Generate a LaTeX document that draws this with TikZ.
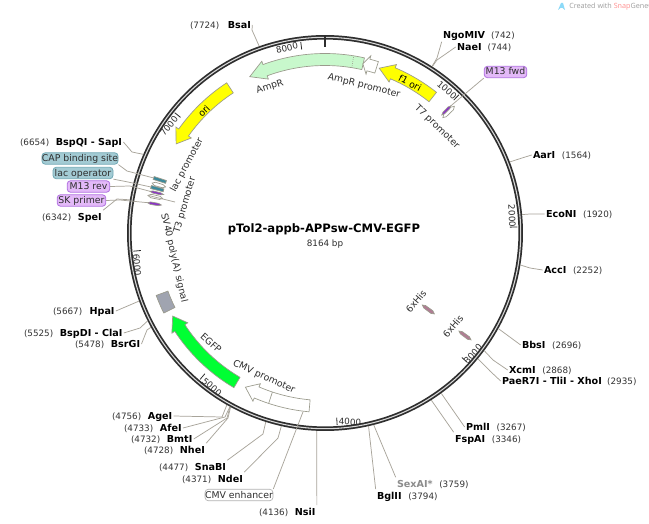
\documentclass[tikz,border=0pt]{standalone}
\usepackage{fontspec}
\setmainfont{DejaVu Sans}
\newfontfamily\wmfont{Open Sans}
\definecolor{ringc}{HTML}{2E2E2E}
\definecolor{linec}{HTML}{A8A49A}
\definecolor{featline}{HTML}{9A9A8C}
\definecolor{numc}{HTML}{333333}
\definecolor{ampg}{HTML}{C8F8CC}
\definecolor{yel}{HTML}{FFFF00}
\definecolor{egfpg}{HTML}{00FF33}
\definecolor{svg}{HTML}{A0A4B0}
\definecolor{tealf}{HTML}{3A8A9C}
\definecolor{purpf}{HTML}{8A30C8}
\definecolor{hisf}{HTML}{B07C94}
\definecolor{tlfill}{HTML}{A3CBD4}
\definecolor{tlline}{HTML}{70A8B4}
\definecolor{plfill}{HTML}{E3B9F8}
\definecolor{plline}{HTML}{B070E0}
\tikzset{
  px/.style={font=\fontsize{6.6pt}{8pt}\selectfont},
  pxb/.style={font=\fontsize{7pt}{8pt}\selectfont},
  site/.style={px,inner sep=0pt,outer sep=1pt,xshift=-1pt,text height=6.5pt,text depth=1.7pt,anchor=west,text=numc},
  conn/.style={draw=linec,line width=0.55pt},
  feat/.style={draw=featline,line width=0.5pt,line join=miter},
  featlabel/.style={pxb,text=ringc,inner sep=0pt},
  ticklabel/.style={px,text=ringc,inner sep=0pt},
  ticklinestyle/.style={draw=ringc,line width=0.6pt},
  tealtag/.style={pxb,rounded corners=2.5pt,fill=tlfill,draw=tlline,line width=0.6pt,inner sep=0pt,text=ringc,minimum height=8.6pt,text height=6pt,text depth=1.5pt},
  purptag/.style={pxb,rounded corners=2.5pt,fill=plfill,draw=plline,line width=0.6pt,inner sep=0pt,text=ringc,minimum height=8.6pt,text height=6pt,text depth=1.5pt},
  greytag/.style={pxb,rounded corners=2.5pt,fill=white,draw=black!30,line width=0.5pt,inner sep=0pt,text=ringc,minimum height=8.6pt,text height=6pt,text depth=1.5pt},
}
\newcommand\nm[1]{{\fontsize{7.2pt}{8pt}\selectfont\textbf{\textcolor{black}{#1}}}}
\newcommand\arrowfeat[4]{%
  \draw[feat,#4] (#1:179.5) arc[start angle=#1,end angle=#2,radius=179.5] -- (#2:183) -- (#3:173.5) -- (#2:164) -- (#2:167.5) arc[start angle=#2,end angle=#1,radius=167.5] -- cycle;}
\newcommand\radbar[5]{%
  \draw[feat,#5] ({#1-#2}:#3) -- ({#1-#2}:#4) -- ({#1+#2}:#4) -- ({#1+#2}:#3) -- cycle;}
\newcommand\radlens[5]{%
  \draw[feat,#5] (#1:#3) -- ({#1+#2}:{#3+3}) -- ({#1+#2}:{#4-3}) -- (#1:#4) -- ({#1-#2}:{#4-3}) -- ({#1-#2}:{#3+3}) -- cycle;}
\begin{document}
\begin{tikzpicture}[x=0.75pt,y=-0.75pt]
\useasboundingbox[fill=white] (0,0) rectangle (649,524);
\begin{scope}[shift={(325,233)},y=0.75pt]
  % ring
  \draw[ringc,line width=3.4pt] (0,0) circle[radius=195.7];
  \draw[white!85!black,line width=0.8pt] (0,0) circle[radius=195.7];
  \draw[ringc,line width=1.5pt] (90:186) -- (90:197);
  % ticks
  \foreach \b in {1000,2000,3000,4000,5000,6000,7000,8000}
    \draw[ticklinestyle] ({90-\b/8164*360}:185) -- ({90-\b/8164*360}:192.5);
  % sites on the ring
  \foreach \n/\b in {bsa/7724,ngo/742,nae/744,aar/1564,eco/1920,acc/2252,bbs/2696,xcm/2868,pae/2935,pml/3267,fsp/3346,sex/3759,bgl/3794,nsi/4136,nde/4371,sna/4477,nhe/4728,bmt/4732,afe/4733,age/4756,bsr/5478,cla/5525,hpa/5667,spe/6342,bsp/6654}
    \coordinate (s\n) at ({90-\b/8164*360}:198);
  % large features
  \arrowfeat{77.3}{110.2}{115.7}{fill=ampg}
  \draw[featline,line width=0.5pt,densely dotted] (80.8:167.5) -- (80.8:179.5);
  \arrowfeat{72.7}{75.5}{77.4}{fill=white}
  \arrowfeat{51.6}{67}{71.8}{fill=yel}
  \arrowfeat{123.2}{144.6}{149.1}{fill=yel}
  \arrowfeat{239.5}{213.2}{208.6}{fill=egfpg}
  \arrowfeat{264.9}{246.8}{242.7}{fill=white}
  \draw[featline,line width=0.5pt] (251.7:167.5) -- (251.7:179.5);
  \draw[feat,fill=svg] (200.3:167.5) arc[start angle=200.3,end angle=206.4,radius=167.5] -- (206.4:180) arc[start angle=206.4,end angle=200.3,radius=180] -- cycle;
  % small features
  \radbar{162.2}{0.5}{167}{180}{fill=tealf}
  \radlens{163.9}{0.55}{166}{180}{fill=white}
  \radbar{165.2}{0.5}{167}{180}{fill=tealf}
  \radlens{166.6}{0.35}{166}{180}{fill=purpf}
  \radlens{168.0}{0.55}{166}{181}{fill=white}
  \radlens{170.3}{0.4}{166}{180}{fill=purpf}
  \radlens{44.4}{0.6}{165}{181}{fill=white}
  \radlens{45.3}{0.4}{166}{179}{fill=purpf}
  \radlens{-36.5}{0.7}{121}{136}{fill=hisf}
  \radlens{-36.2}{0.5}{166}{181}{fill=hisf}
  % free ends of feature connectors
  \coordinate (fcap) at (162.2:180);
  \coordinate (flaco) at (165.2:180);
  \coordinate (fm13r) at (166.6:180);
  \coordinate (fsk) at (170.3:180);
  \coordinate (ft3a) at (168:181);
  \coordinate (fm13f) at (45.3:179);
  \coordinate (fenh) at (263:180);
\end{scope}

% title
\node[font=\bfseries\fontsize{8.7pt}{10pt}\selectfont,inner sep=0pt] (title) at (324,229) {pTol2-appb-APPsw-CMV-EGFP};
\node[px,inner sep=0pt,text=ringc] (size) at (325,244) {8164 bp};

% watermark
\fill[cyan!45] (558,10) -- (561,3) -- (563,3) -- (565,10) -- (562.5,8) -- (560.5,8) -- cycle;
\node[font=\wmfont\fontsize{5.4pt}{6pt}\selectfont,inner sep=0pt,text=black!38,anchor=west] (wm) at (569,7) {Created with \textcolor{red!45}{Snap}Gene®};

% site labels, clockwise
\node[site] (bsa) at (190,25) {(7724)\hspace{6.5pt}\nm{BsaI}};
\node[site] (ngo) at (443,35) {\nm{NgoMIV}\hspace{4.5pt}(742)};
\node[site] (nae) at (457,47) {\nm{NaeI}\hspace{4.5pt}(744)};
\node[site] (aar) at (533,155) {\nm{AarI}\hspace{5pt}(1564)};
\node[site] (eco) at (546,214) {\nm{EcoNI}\hspace{5pt}(1920)};
\node[site] (acc) at (544,270) {\nm{AccI}\hspace{5pt}(2252)};
\node[site] (bbs) at (522,345) {\nm{BbsI}\hspace{5pt}(2696)};
\node[site] (xcm) at (509,370) {\nm{XcmI}\hspace{5pt}(2868)};
\node[site] (pae) at (502,381) {\nm{PaeR7I - TliI - XhoI}\hspace{4pt}(2935)};
\node[site] (pml) at (466,427) {\nm{PmlI}\hspace{5pt}(3267)};
\node[site] (fsp) at (455,439) {\nm{FspAI}\hspace{5pt}(3346)};
\node[site] (sex) at (397,484) {\textbf{\fontsize{7.2pt}{8pt}\selectfont\textcolor{black!45}{SexAI*}}\hspace{5pt}(3759)};
\node[site] (bgl) at (377,496) {\nm{BglII}\hspace{5pt}(3794)};
\node[site] (nsi) at (259,512) {(4136)\hspace{5pt}\nm{NsiI}};
\node[site] (nde) at (182,479) {(4371)\hspace{5pt}\nm{NdeI}};
\node[site] (sna) at (159,467) {(4477)\hspace{5pt}\nm{SnaBI}};
\node[site] (nhe) at (144,450) {(4728)\hspace{5pt}\nm{NheI}};
\node[site] (bmt) at (131,439) {(4732)\hspace{5pt}\nm{BmtI}};
\node[site] (afe) at (124,428) {(4733)\hspace{5pt}\nm{AfeI}};
\node[site] (age) at (112,416) {(4756)\hspace{5pt}\nm{AgeI}};
\node[site] (bsr) at (75,344) {(5478)\hspace{5pt}\nm{BsrGI}};
\node[site] (cla) at (24,333) {(5525)\hspace{5pt}\nm{BspDI - ClaI}};
\node[site] (hpa) at (53,311) {(5667)\hspace{5.5pt}\nm{HpaI}};
\node[site] (spe) at (42,217) {(6342)\hspace{5pt}\nm{SpeI}};
\node[site] (bsp) at (20,142) {(6654)\hspace{5pt}\nm{BspQI - SapI}};

% tag labels
\node[tealtag,minimum width=57pt] (cap) at (80,158.5) {CAP binding site};
\node[tealtag,minimum width=45pt] (laco) at (83,173) {lac operator};
\node[purptag,minimum width=32pt] (m13r) at (88.5,186.5) {M13 rev};
\node[purptag,minimum width=36.5pt] (sk) at (81.5,200.5) {SK primer};
\node[purptag,minimum width=32pt] (m13f) at (505.5,72) {M13 fwd};
\node[greytag,minimum width=51pt] (enh) at (239,495) {CMV enhancer};

% connectors
\draw[conn] (bsa.east) -- (252,30) -- (sbsa);
\draw[conn] (ngo.south west) -- (437,58) -- (sngo);
\draw[conn] (nae.west) -- (437,60) -- (snae);
\draw[conn] (aar.west) -- (522,158) -- (saar);
\draw[conn] (eco.west) -- (530,214) -- (seco);
\draw[conn] (acc.west) -- (530,268) -- (sacc);
\draw[conn] (bbs.west) -- (sbbs);
\draw[conn] (xcm.west) -- (493,360) -- (sxcm);
\draw[conn] (pae.west) -- (490,371) -- (spae);
\draw[conn] (pml.west) -- (spml);
\draw[conn] (fsp.north west) -- (sfsp);
\draw[conn] (sex.north west) -- (ssex);
\draw[conn] (bgl.north west) -- (sbgl);
\draw[conn] (nsi.north east) -- (snsi);
\draw[conn] (nde.north east) -- (278,438) -- (snde);
\draw[conn] (sna.north east) -- (263,434) -- (ssna);
\draw[conn] (nhe.north east) -- (228,418) -- (snhe);
\draw[conn] (bmt.east) -- (227,418) -- (sbmt);
\draw[conn] (afe.east) -- (225,417) -- (safe);
\draw[conn] (age.east) -- (222,417) -- (sage);
\draw[conn] (bsr.east) -- (147,330) -- (sbsr);
\draw[conn] (cla.east) -- (140,328) -- (scla);
\draw[conn] (hpa.east) -- (shpa);
\draw[conn] (spe.north east) -- (117,199) -- (sspe);
\draw[conn] (bsp.east) -- (132,152) -- (sbsp);
\draw[conn] (cap.south east) -- (127,171) -- (fcap);
\draw[conn] (laco.south east) -- (128,182) -- (flaco);
\draw[conn] (m13r.east) -- (130,186) -- (fm13r);
\draw[conn] (sk.east) -- (120,200) -- (fsk);
\draw[conn] (m13f.south west) -- (fm13f);
\draw[conn] (enh.north east) -- (fenh);
\draw[conn] (ft3a) -- (175,202);

% feature labels
\node[featlabel,rotate=18] (lamp) at (270,87) {AmpR};
\node[featlabel,rotate=-14] (lampp) at (364,86) {AmpR promoter};
\node[featlabel,rotate=-28,text=black] (lf1) at (410,83) {f1 ori};
\node[featlabel,rotate=-44] (lt7) at (437,127) {T7 promoter};
\node[featlabel,rotate=45,text=black] (lori) at (204,111) {ori};
\node[featlabel,rotate=62] (llac) at (187,165) {lac promoter};
\node[featlabel,rotate=74] (lt3) at (185,205) {T3 promoter};
\node[featlabel,rotate=-77] (lsv) at (174,258) {SV40 poly(A) signal};
\node[featlabel,rotate=-42] (legfp) at (211,343) {EGFP};
\node[featlabel,rotate=-25] (lcmv) at (264,377) {CMV promoter};
\node[featlabel,rotate=50] (lhis1) at (416,301) {6xHis};
\node[featlabel,rotate=50] (lhis2) at (453,326) {6xHis};

% tick labels
\node[ticklabel,rotate=-40] (t1) at (447,90) {1000};
\node[ticklabel,rotate=-88] (t2) at (512,216) {2000};
\node[ticklabel,rotate=48] (t3) at (473,354) {3000};
\node[ticklabel,rotate=-3] (t4) at (350,422) {4000};
\node[ticklabel,rotate=-40] (t5) at (212,387) {5000};
\node[ticklabel,rotate=-85] (t6) at (137,265) {6000};
\node[ticklabel,rotate=51] (t7) at (169,126) {7000};
\node[ticklabel,rotate=13] (t8) at (287,48) {8000};
\end{tikzpicture}
\end{document}
